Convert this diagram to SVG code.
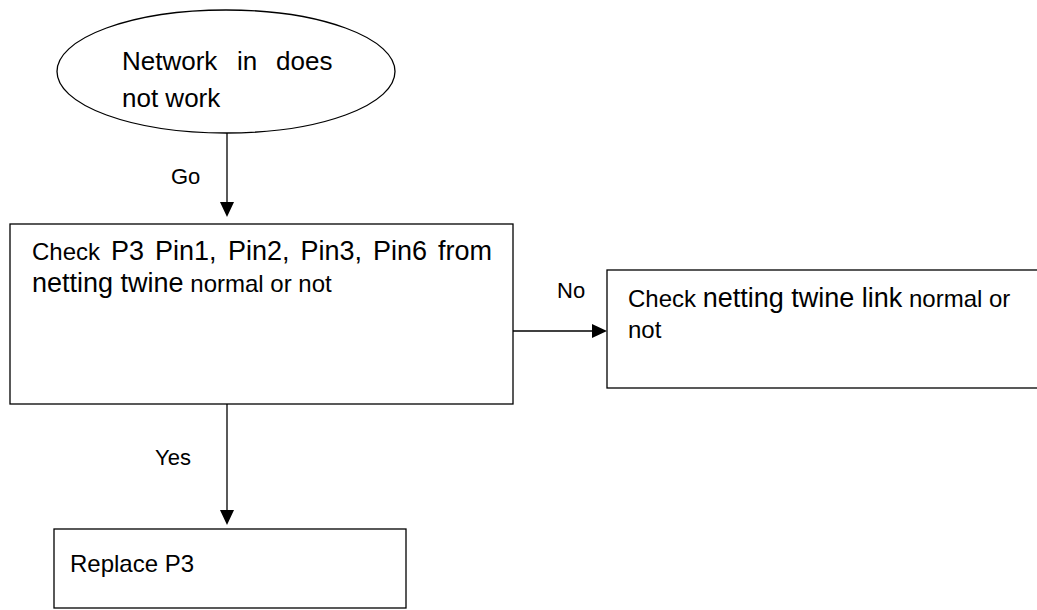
<svg xmlns="http://www.w3.org/2000/svg" width="1037" height="610" viewBox="0 0 1037 610">
<style>
.shape{fill:#fff;stroke:#000;stroke-width:1.3}
.line{stroke:#000;stroke-width:1.3;fill:none}
.head{fill:#000;stroke:none}
text{font-family:"Liberation Sans",Arial,sans-serif;fill:#000}
.s{font-size:24px}
.b{font-size:27px}
.e{font-size:26px}
.l{font-size:22px}
</style>
<rect width="1037" height="610" fill="#fff"/>
<g id="connectors">
<line class="line" x1="227" y1="132" x2="227" y2="204"/>
<polygon class="head" points="220,202 234,202 227,217"/>
<text class="l" x="171" y="184">Go</text>
<line class="line" x1="513" y1="331" x2="594" y2="331"/>
<polygon class="head" points="592,324 592,338 607,331"/>
<text class="l" x="557" y="298">No</text>
<line class="line" x1="227" y1="404" x2="227" y2="512"/>
<polygon class="head" points="220,510 234,510 227,525"/>
<text class="l" x="155" y="465">Yes</text>
</g>
<g id="start">
<ellipse class="shape" cx="226" cy="71.5" rx="169" ry="61.5"/>
<text class="e" y="70"><tspan x="122">Network</tspan><tspan x="237">in</tspan><tspan x="276">does</tspan></text>
<text class="e" x="122" y="107">not work</text>
</g>
<g id="check-p3">
<rect class="shape" x="10" y="224" width="503" height="180"/>
<text y="260"><tspan class="s" x="32">Check</tspan><tspan class="b" x="111">P3</tspan><tspan class="b" x="155">Pin1,</tspan><tspan class="b" x="228">Pin2,</tspan><tspan class="b" x="300.5">Pin3,</tspan><tspan class="b" x="373">Pin6</tspan><tspan class="b" x="438">from</tspan></text>
<text y="292" x="32"><tspan class="b">netting twine</tspan><tspan class="s"> normal or not</tspan></text>
</g>
<g id="check-link">
<rect class="shape" x="607" y="270" width="440" height="118"/>
<text y="307" x="628"><tspan class="s">Check </tspan><tspan class="b">netting twine link</tspan><tspan class="s"> normal or</tspan></text>
<text class="s" x="628" y="338">not</text>
</g>
<g id="replace-p3">
<rect class="shape" x="54" y="529" width="352" height="79"/>
<text class="s" x="70" y="572">Replace P3</text>
</g>
</svg>
